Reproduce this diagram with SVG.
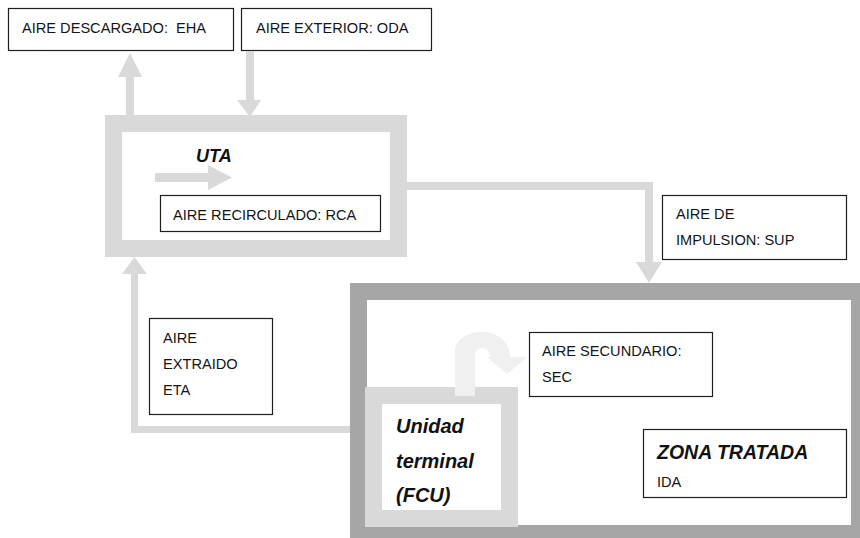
<svg xmlns="http://www.w3.org/2000/svg" width="860" height="538" viewBox="0 0 860 538">
  <style>
    .bg { fill: #ffffff; }
    .label { fill: #ffffff; stroke: #1e1e1e; stroke-width: 1.2; }
    .txt { font-family: "Liberation Sans", Arial, sans-serif; font-size: 14.6px; fill: #141414; }
    .ttl { font-family: "Liberation Sans", Arial, sans-serif; font-weight: bold; font-style: italic; fill: #111111; }
    .frame-light { fill: none; stroke: #d9d9d9; stroke-width: 17; }
    .frame-dark { fill: none; stroke: #a6a6a6; stroke-width: 17; }
    .flow { fill: #d9d9d9; }
    .flow-soft { fill: #f0f0f0; }
  </style>

  <rect class="bg" x="0" y="0" width="860" height="538"/>

  <!-- Air handling unit -->
  <g id="uta">
    <rect class="frame-light" x="113.5" y="123.5" width="285" height="125"/>
    <text class="ttl" x="196" y="162" font-size="18">UTA</text>
    <polygon class="flow" points="155,173 208,173 208,165 232,177.5 208,190 208,182 155,182"/>
  </g>

  <!-- Treated zone -->
  <g id="zona">
    <rect class="frame-dark" x="358.5" y="291.5" width="501" height="242"/>
  </g>

  <!-- Terminal unit -->
  <g id="fcu">
    <rect class="frame-light" x="373.5" y="395.5" width="136" height="123"/>
    <text class="ttl" font-size="20">
      <tspan x="396" y="433">Unidad</tspan>
      <tspan x="396" y="468">terminal</tspan>
      <tspan x="396" y="502">(FCU)</tspan>
    </text>
  </g>

  <g id="eha">
    <rect class="label" x="8.5" y="8.5" width="225" height="42"/>
    <text class="txt" x="22" y="33" xml:space="preserve">AIRE DESCARGADO:  EHA</text>
  </g>

  <g id="oda">
    <rect class="label" x="241.5" y="8.5" width="190" height="42"/>
    <text class="txt" x="256" y="33">AIRE EXTERIOR: ODA</text>
  </g>

  <g id="rca">
    <rect class="label" x="160.5" y="195.5" width="220" height="36"/>
    <text class="txt" x="173" y="220">AIRE RECIRCULADO: RCA</text>
  </g>

  <g id="sup">
    <rect class="label" x="662.5" y="195.5" width="184" height="64"/>
    <text class="txt">
      <tspan x="676" y="219">AIRE DE</tspan>
      <tspan x="676" y="245">IMPULSION: SUP</tspan>
    </text>
  </g>

  <g id="eta">
    <rect class="label" x="149.5" y="318.5" width="123" height="96"/>
    <text class="txt">
      <tspan x="163" y="343">AIRE</tspan>
      <tspan x="163" y="369">EXTRAIDO</tspan>
      <tspan x="163" y="395">ETA</tspan>
    </text>
  </g>

  <g id="sec">
    <rect class="label" x="529.5" y="332.5" width="183" height="64"/>
    <text class="txt">
      <tspan x="542" y="356">AIRE SECUNDARIO:</tspan>
      <tspan x="542" y="382">SEC</tspan>
    </text>
  </g>

  <g id="ida">
    <rect class="label" x="643.5" y="429.5" width="203" height="68"/>
    <text class="ttl" x="657" y="459" font-size="19.5">ZONA TRATADA</text>
    <text class="txt" x="657" y="487">IDA</text>
  </g>

  <!-- Air flows -->
  <g id="connectors">
    <!-- exhaust out of the AHU -->
    <polygon class="flow" points="126,115 126,77 118,77 130,53 142,77 134,77 134,115"/>
    <!-- outdoor air into the AHU -->
    <polygon class="flow" points="246,51 254,51 254,100 261,100 250,117 237,100 246,100"/>
    <!-- supply air to the zone -->
    <polygon class="flow" points="407,182 653,182 653,262 662,262 649,283 636,262 645,262 645,190 407,190"/>
    <!-- extract air back to the AHU -->
    <polygon class="flow" points="350,426 350,433 131,433 131,274 122,274 134.5,257 147,274 138,274 138,426"/>
    <!-- secondary air leaving the terminal unit -->
    <path class="flow-soft" d="M455,396 L455,352 C455,339 467,332 482,332 C498,332 510,342 510,357 L527,357 L507,374 L487,357 L490,357 C490,352 487,348 482,348 C478,348 475,351 475,355 L475,396 Z"/>
  </g>
</svg>
